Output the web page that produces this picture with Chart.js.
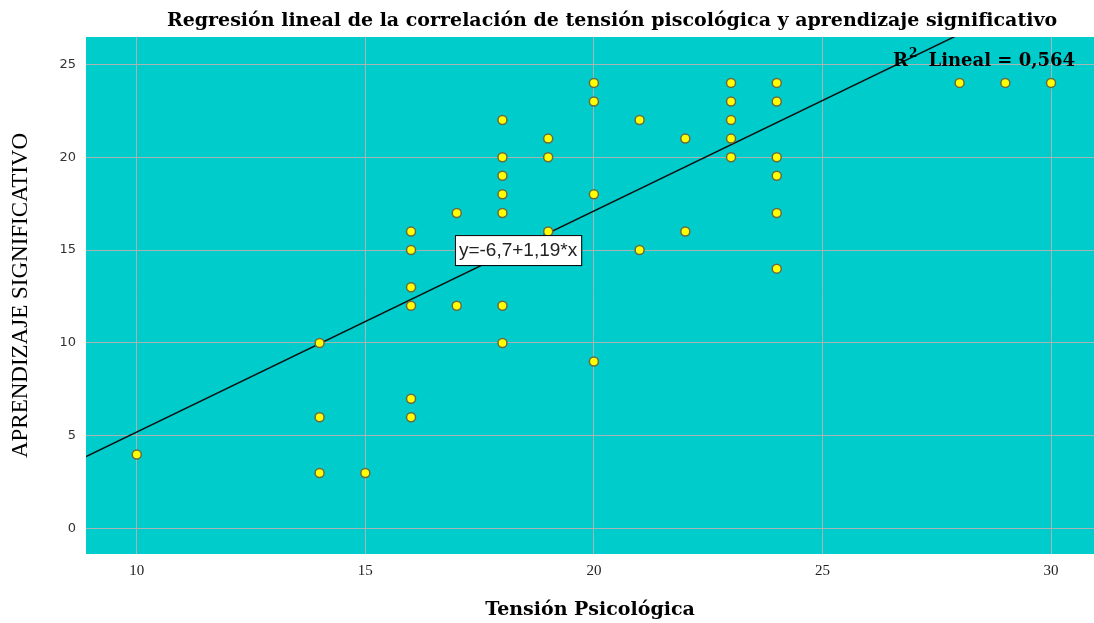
<!DOCTYPE html>
<html lang="es">
<head>
<meta charset="UTF-8">
<title>Regresión lineal</title>
<style>
    body { margin: 0; padding: 0; background: #ffffff; overflow: hidden; }
    #wrap { width: 1094px; height: 623px; }
    canvas { display: block; }
</style>
</head>
<body>
<div id="wrap">
    <canvas id="chart" width="1094" height="623"></canvas>
</div>
<script src="https://cdn.jsdelivr.net/npm/chart.js"></script>
<script>
    // Tensión Psicológica (x) and Aprendizaje Significativo (y), one entry per point
    const tension = [
        10,
        14, 14, 14,
        15,
        16, 16, 16, 16, 16, 16,
        17, 17,
        18, 18, 18, 18, 18, 18, 18,
        19, 19, 19,
        20, 20, 20, 20,
        21, 21,
        22, 22,
        23, 23, 23, 23, 23,
        24, 24, 24, 24, 24, 24,
        28, 29, 30
    ];
    const aprendizaje = [
        4,
        10, 6, 3,
        3,
        16, 15, 13, 12, 7, 6,
        17, 12,
        22, 20, 19, 18, 17, 12, 10,
        21, 20, 16,
        24, 23, 18, 9,
        22, 15,
        21, 16,
        24, 23, 22, 21, 20,
        24, 23, 20, 19, 17, 14,
        24, 24, 24
    ];
    const xTicks = [10, 15, 20, 25, 30];
    const yTicks = [0, 5, 10, 15, 20, 25];

    // fit line y = a + b*x
    const intercept = -6.7;
    const slope = 1.19;
    const rSquared = '0,564';
    const equationText = 'y=-6,7+1,19*x';

    const xMin = 8.89, xMax = 30.94;
    const yMin = -1.36, yMax = 26.47;

    const points = tension.map((t, i) => ({ x: t, y: aprendizaje[i] }));
    const fitLine = [xMin, xMax].map(x => ({ x: x, y: intercept + slope * x }));

    // background of the plot area + text annotations
    const decor = {
        id: 'decor',
        beforeDraw(chart) {
            const { ctx, chartArea: a } = chart;
            ctx.save();
            ctx.fillStyle = '#00cccc';
            ctx.fillRect(a.left, a.top, a.right - a.left, a.bottom - a.top);
            ctx.restore();
        },
        afterDraw(chart) {
            const { ctx } = chart;
            const xs = chart.scales.x, ys = chart.scales.y;
            ctx.save();

            // title
            ctx.fillStyle = '#000';
            ctx.font = 'bold 19px "DejaVu Serif"';
            ctx.textAlign = 'center';
            ctx.textBaseline = 'alphabetic';
            ctx.fillText('Regresión lineal de la correlación de tensión piscológica y aprendizaje significativo', 612, 26);

            // equation box
            ctx.font = '19px "Liberation Sans"';
            const tw = ctx.measureText(equationText).width;
            const bx = xs.getPixelForValue(16.96);
            const by = ys.getPixelForValue(15);
            const bw = tw + 8, bh = 30;
            ctx.fillStyle = '#ffffff';
            ctx.fillRect(bx, by - bh / 2, bw, bh);
            ctx.strokeStyle = '#000';
            ctx.lineWidth = 1;
            ctx.strokeRect(bx + 0.5, by - bh / 2 + 0.5, bw, bh);
            ctx.fillStyle = '#222';
            ctx.textAlign = 'left';
            ctx.textBaseline = 'middle';
            ctx.fillText(equationText, bx + 4, by + 1);

            // R² label
            ctx.fillStyle = '#000';
            ctx.textBaseline = 'alphabetic';
            ctx.font = 'bold 18px "DejaVu Serif"';
            ctx.fillText('R', 893, 66);
            const rw = ctx.measureText('R').width;
            ctx.font = 'bold 12px "DejaVu Serif"';
            ctx.fillText('2', 893 + rw + 1, 57);
            ctx.font = 'bold 18px "DejaVu Serif"';
            const lab = 'Lineal = ' + rSquared;
            ctx.textAlign = 'right';
            ctx.fillText(lab, 1075, 66);

            ctx.restore();
        }
    };

    new Chart(document.getElementById('chart'), {
        type: 'scatter',
        data: {
            datasets: [
                {
                    label: 'Lineal',
                    type: 'line',
                    data: fitLine,
                    borderColor: '#111',
                    borderWidth: 1.5,
                    pointRadius: 0,
                    fill: false,
                    order: 2
                },
                {
                    label: 'Observado',
                    data: points,
                    backgroundColor: '#ffff00',
                    borderColor: '#6a6a40',
                    borderWidth: 1.5,
                    pointRadius: 4.5,
                    pointHoverRadius: 4.5,
                    order: 1
                }
            ]
        },
        options: {
            responsive: false,
            animation: false,
            layout: { autoPadding: false, padding: { top: 37, right: 0, left: 0, bottom: 0 } },
            plugins: {
                legend: { display: false },
                tooltip: { enabled: false }
            },
            scales: {
                x: {
                    type: 'linear',
                    min: xMin,
                    max: xMax,
                    afterFit(scale) {
                        scale.height = 69;
                        scale.paddingLeft = 0;
                        scale.paddingRight = 0;
                    },
                    afterBuildTicks(scale) { scale.ticks = xTicks.map(v => ({ value: v })); },
                    grid: { color: '#a8b4b4', lineWidth: 1, drawTicks: false },
                    border: { display: false },
                    ticks: {
                        padding: 8,
                        color: '#222',
                        font: { family: '"Liberation Serif"', size: 15 }
                    },
                    title: {
                        display: true,
                        text: 'Tensión Psicológica',
                        color: '#000',
                        font: { family: '"DejaVu Serif"', size: 19, weight: 'bold' },
                        padding: { top: 0, bottom: 2 }
                    }
                },
                y: {
                    type: 'linear',
                    min: yMin,
                    max: yMax,
                    afterFit(scale) {
                        scale.width = 86;
                        scale.paddingTop = 0;
                        scale.paddingBottom = 0;
                    },
                    afterBuildTicks(scale) { scale.ticks = yTicks.map(v => ({ value: v })); },
                    grid: { color: '#a8b4b4', lineWidth: 1, drawTicks: false },
                    border: { display: false },
                    ticks: {
                        padding: 10,
                        color: '#333',
                        font: { family: '"DejaVu Sans"', size: 13 }
                    },
                    title: {
                        display: true,
                        text: 'APRENDIZAJE SIGNIFICATIVO',
                        color: '#000',
                        font: { family: '"Liberation Serif"', size: 23 },
                        padding: { top: 7, bottom: 0 }
                    }
                }
            }
        },
        plugins: [decor]
    });
</script>
</body>
</html>
